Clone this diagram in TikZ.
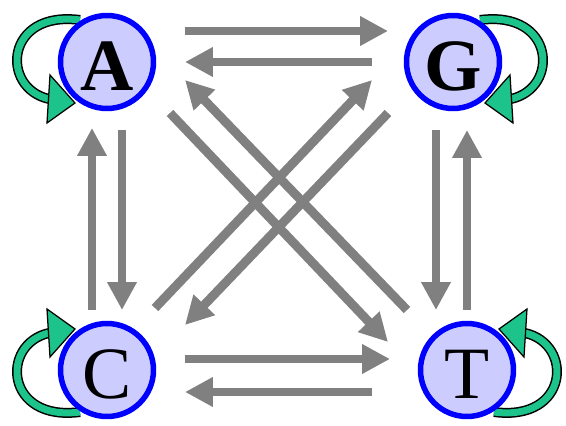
\documentclass[tikz,border=0pt]{standalone}
\usepackage{fontspec}
\setmainfont{Liberation Serif}
\usetikzlibrary{arrows.meta,positioning,backgrounds}

\definecolor{basefill}{RGB}{204,204,255}
\definecolor{loopgreen}{RGB}{28,196,140}

\tikzset{
  selfloop/.pic={
    \draw[black, line width=0.2cm] (-27,-42) .. controls (-102,-52) and (-107,26) .. (-58,37);
    \draw[loopgreen, line width=0.14cm] (-27,-42) .. controls (-102,-52) and (-107,26) .. (-58,37);
    \filldraw[fill=loopgreen, draw=black, line width=0.025cm] (-57,13) -- (-32,41) -- (-60,61) -- cycle;
  }
}

\begin{document}
\begin{tikzpicture}[x=0.02cm, y=-0.02cm,
  base/.style={circle, draw=blue, fill=basefill, line width=0.11cm, minimum size=1.86cm,
    inner sep=0pt, text height=1.14cm, text depth=0pt, font=\fontsize{42}{42}\selectfont},
  flow/.style={draw=gray, line width=0.18cm, -{Triangle[length=0.56cm, width=0.56cm]}}]
\useasboundingbox (0,0) rectangle (566,426);

% bases
\node[base] (A) at (107,62) {\bfseries A};
\node[base] (G) at (453,62) {\bfseries G};
\node[base] (C) at (107,370) {C};
\node[base] (T) at (467,370) {T};

% self transitions
\begin{scope}[on background layer]
\pic at (A.center) {selfloop};
\pic[xscale=-1] at (G.center) {selfloop};
\pic[yscale=-1] at (C.center) {selfloop};
\pic[scale=-1] at (T.center) {selfloop};
\end{scope}

% horizontal
\draw[flow] ([shift={(78,-31)}]A.center) -- ([shift={(-65,-31)}]G.center);
\draw[flow] ([shift={(-81,0)}]G.center) -- ([shift={(78,0)}]A.center);
\draw[flow] ([shift={(78,-11)}]C.center) -- ([shift={(-77,-11)}]T.center);
\draw[flow] ([shift={(-95,22)}]T.center) -- ([shift={(78,22)}]C.center);

% vertical
\draw[flow] ([shift={(-15,-60)}]C.center) -- ([shift={(-15,66)}]A.center);
\draw[flow] ([shift={(15,68)}]A.center) -- ([shift={(15,-60)}]C.center);
\draw[flow] ([shift={(-17,68)}]G.center) -- ([shift={(-31,-60)}]T.center);
\draw[flow] ([shift={(0,-60)}]T.center) -- ([shift={(14,68)}]G.center);

% diagonal
\draw[flow] ([shift={(63,51)}]A.center) -- ([shift={(-79,-28)}]T.center);
\draw[flow] ([shift={(-60,-60)}]T.center) -- ([shift={(78,18)}]A.center);
\draw[flow] ([shift={(-65,51)}]G.center) -- ([shift={(78,-45)}]C.center);
\draw[flow] ([shift={(48,-62)}]C.center) -- ([shift={(-81,18)}]G.center);

\end{tikzpicture}
\end{document}
